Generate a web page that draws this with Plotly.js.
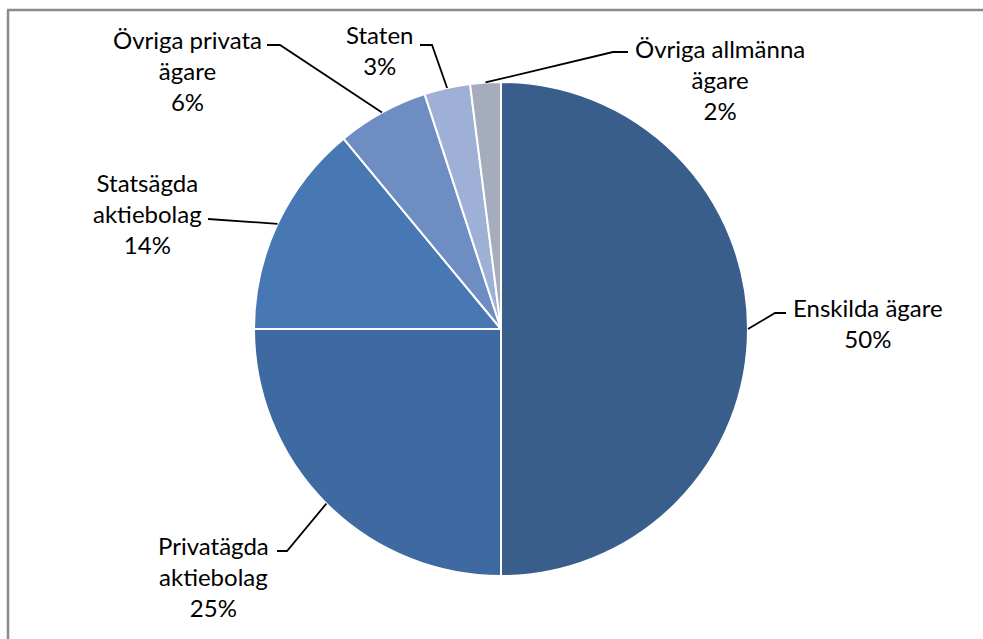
<!DOCTYPE html>
<html>
<head>
<meta charset="utf-8">
<script src="https://cdn.plot.ly/plotly-3.0.1.min.js"></script>
<style>
html,body{margin:0;padding:0;background:#fff;overflow:hidden;}
#chart{width:983px;height:639px;}
</style>
</head>
<body>
<div id="chart"></div>
<script>
// ---- data ----
const categories = ["Enskilda ägare", "Privatägda aktiebolag", "Statsägda aktiebolag", "Övriga privata ägare", "Staten", "Övriga allmänna ägare"];
const shares = [50, 25, 14, 6, 3, 2];
const labelTexts = ["Enskilda ägare<br>50%", "Privatägda<br>aktiebolag<br>25%", "Statsägda<br>aktiebolag<br>14%", "Övriga privata<br>ägare<br>6%", "Staten<br>3%", "Övriga allmänna<br>ägare<br>2%"];

// ---- styling / layout ----
const W = 983, H = 639;
const colors = ["#395E8C", "#3F69A1", "#4878B4", "#6E8DC3", "#9EB0D6", "#A5ACBC"];
const pieBox = {left: 254, right: 748, top: 82, bottom: 576}; // pixels
const cx = (pieBox.left + pieBox.right) / 2, cy = (pieBox.top + pieBox.bottom) / 2;
const R = Math.min(pieBox.right - pieBox.left, pieBox.bottom - pieBox.top) / 2;
// text block centres and leader-line start/elbow points (pixels)
const labelLayout = [
  {tx: 868, ty: 323, sx: 786, sy: 313, ex: 775},
  {tx: 213, ty: 576, sx: 277, sy: 551, ex: 287},
  {tx: 147, ty: 214, sx: 208, sy: 219, ex: 208},
  {tx: 187, ty: 70,  sx: 267, sy: 45,  ex: 280},
  {tx: 379, ty: 50,  sx: 420, sy: 45,  ex: 432},
  {tx: 720, ty: 79,  sx: 628, sy: 52,  ex: 613}
];
const px2x = p => p / W;
const py2y = p => 1 - p / H;

const total = shares.reduce((a, b) => a + b, 0);
let cum = 0;
const anchors = shares.map(v => {
  const mid = (cum + v / 2) / total * 2 * Math.PI;
  cum += v;
  return {x: cx + R * Math.sin(mid), y: cy - R * Math.cos(mid)};
});

const shapes = [];
const annotations = [];
labelLayout.forEach((L, i) => {
  const a = anchors[i];
  shapes.push({
    type: "path", xref: "paper", yref: "paper",
    path: `M ${px2x(L.sx)} ${py2y(L.sy)} L ${px2x(L.ex)} ${py2y(L.sy)} L ${px2x(a.x)} ${py2y(a.y)}`,
    line: {color: "#000", width: 1.8}
  });
  annotations.push({
    xref: "paper", yref: "paper", x: px2x(L.tx), y: py2y(L.ty),
    xanchor: "center", yanchor: "middle", align: "center",
    text: labelTexts[i], showarrow: false,
    font: {family: "Lato, 'Open Sans', sans-serif", size: 24, color: "#000"}
  });
});
// chart-area border (cropped Excel frame)
shapes.push({type: "line", xref: "paper", yref: "paper", x0: px2x(7), x1: px2x(990), y0: py2y(10), y1: py2y(10), line: {color: "#8a8a8a", width: 2.5}});
shapes.push({type: "line", xref: "paper", yref: "paper", x0: px2x(8), x1: px2x(8), y0: py2y(10), y1: py2y(650), line: {color: "#8a8a8a", width: 2.5}});

const trace = {
  type: "pie",
  labels: categories,
  values: shares,
  sort: false,
  direction: "clockwise",
  rotation: 0,
  textinfo: "none",
  hoverinfo: "skip",
  marker: {colors: colors, line: {color: "#ffffff", width: 2}},
  domain: {x: [px2x(pieBox.left), px2x(pieBox.right)], y: [py2y(pieBox.bottom), py2y(pieBox.top)]},
  showlegend: false
};

Plotly.newPlot("chart", [trace], {
  width: W, height: H,
  margin: {l: 0, r: 0, t: 0, b: 0},
  paper_bgcolor: "#fff",
  showlegend: false,
  shapes: shapes,
  annotations: annotations
}, {staticPlot: true, displayModeBar: false});
</script>
</body>
</html>
